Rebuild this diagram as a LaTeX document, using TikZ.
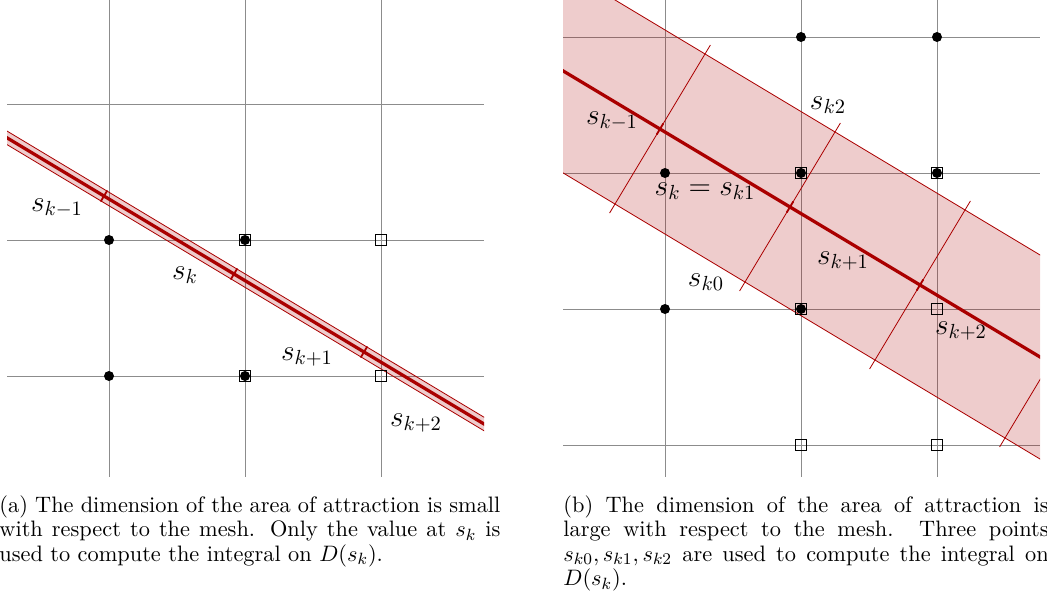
\documentclass[tikz,border=0pt]{standalone}
\usepackage{amsmath}
\usetikzlibrary{positioning}
\definecolor{lineRed}{RGB}{170,0,0}
\definecolor{gridGray}{RGB}{140,140,140}

\begin{document}
\begin{tikzpicture}[
  x=0.49pt, y=-0.49pt,
  gridline/.style={gridGray, line width=0.4pt},
  centreline/.style={lineRed, line width=1.6pt},
  bandedge/.style={lineRed, line width=0.4pt, fill=lineRed, fill opacity=0.2},
  longtick/.style={lineRed, line width=0.4pt},
  shorttick/.style={lineRed, line width=0.9pt},
  dot/.style={circle, fill=black, inner sep=0pt, minimum size=4.9pt},
  box/.style={draw=black, line width=0.4pt, fill=none, inner sep=0pt, minimum size=5.7pt},
  lbl/.style={font=\Large, inner sep=0pt},
  captext/.style={anchor=north west, inner sep=0pt, align=justify, font=\fontsize{10.95}{12}\selectfont},
]
\useasboundingbox (0,0) rectangle (1047,597);
\def\ang{-30.96}
\def\gap{151.6}
% (a) thin area of attraction
\begin{scope}[shift={(245,240)}]
  \begin{scope}
    \clip (-238,-240) rectangle (239,237);
    \foreach \x in {-136,0,136} \draw[gridline] (\x,-240) -- (\x,237);
    \foreach \y in {-136,0,136} \draw[gridline] (-238,\y) -- (239,\y);
    \begin{scope}[shift={(-11,34)}, rotate=\ang]
      \draw[bandedge] (-600,-5.8) -- (600,-5.8) -- (600,5.8) -- (-600,5.8) -- cycle;
      \draw[centreline] (-600,0) -- (600,0);
      \foreach \t in {-1,0,1,2} \draw[shorttick] (\t*\gap,-6.5) -- (\t*\gap,6.5);
    \end{scope}
  \end{scope}
  \foreach \px/\py [count=\i] in {0/0, 136/0, 0/136, 136/136}
    \node[box] (boxA\i) at (\px,\py) {};
  \foreach \px/\py [count=\i] in {-136/0, 0/0, -136/136, 0/136}
    \node[dot] (dotA\i) at (\px,\py) {};
\end{scope}
\node[lbl] (skmA) at (57,208) {$s_{k-1}$};
\node[lbl] (skA) at (185,275) {$s_k$};
\node[lbl] (skpA) at (307,357) {$s_{k+1}$};
\node[lbl] (skppA) at (416,423) {$s_{k+2}$};
% (b) wide area of attraction
\begin{scope}[shift={(801,173)}]
  \begin{scope}
    \clip (-238,-173) rectangle (239,304);
    \foreach \x in {-136,0,136} \draw[gridline] (\x,-173) -- (\x,304);
    \foreach \y in {-136,0,136,272} \draw[gridline] (-238,\y) -- (239,\y);
    \begin{scope}[shift={(-11,34)}, rotate=\ang]
      \draw[bandedge] (-600,-87.5) -- (600,-87.5) -- (600,87.5) -- (-600,87.5) -- cycle;
      \foreach \t in {-1,0,1,2} \draw[longtick] (\t*\gap,-98) -- (\t*\gap,98);
      \draw[centreline] (-600,0) -- (600,0);
      \foreach \t in {-1,0,1,2} \draw[shorttick] (\t*\gap,-6.5) -- (\t*\gap,6.5);
    \end{scope}
  \end{scope}
  \foreach \px/\py [count=\i] in {0/0, 136/0, 0/136, 136/136, 0/272, 136/272}
    \node[box] (boxB\i) at (\px,\py) {};
  \foreach \px/\py [count=\i] in {0/-136, 136/-136, -136/0, 0/0, 136/0, -136/136, 0/136}
    \node[dot] (dotB\i) at (\px,\py) {};
\end{scope}
\node[lbl] (skmB) at (612,121) {$s_{k-1}$};
\node[lbl] (sktwoB) at (828,105) {$s_{k2}$};
\node[lbl] (skB) at (705,191) {$s_k = s_{k1}$};
\node[lbl] (skpB) at (843,261) {$s_{k+1}$};
\node[lbl] (skzeroB) at (706,282) {$s_{k0}$};
\node[lbl] (skppB) at (961,331) {$s_{k+2}$};
% captions
\node[captext, text width=245.5pt] (capA) at (-1,495)
  {(a) The dimension of the area of attraction is small with respect to the mesh. Only the value at $s_k$ is used to compute the integral on $D(s_k)$.};
\node[captext, text width=237.8pt] (capB) at (563,495)
  {(b) The dimension of the area of attraction is\linebreak large with respect to the mesh. Three points\linebreak $s_{k0}, s_{k1}, s_{k2}$ are used to compute the integral on\linebreak $D(s_k)$.};
\end{tikzpicture}
\end{document}
